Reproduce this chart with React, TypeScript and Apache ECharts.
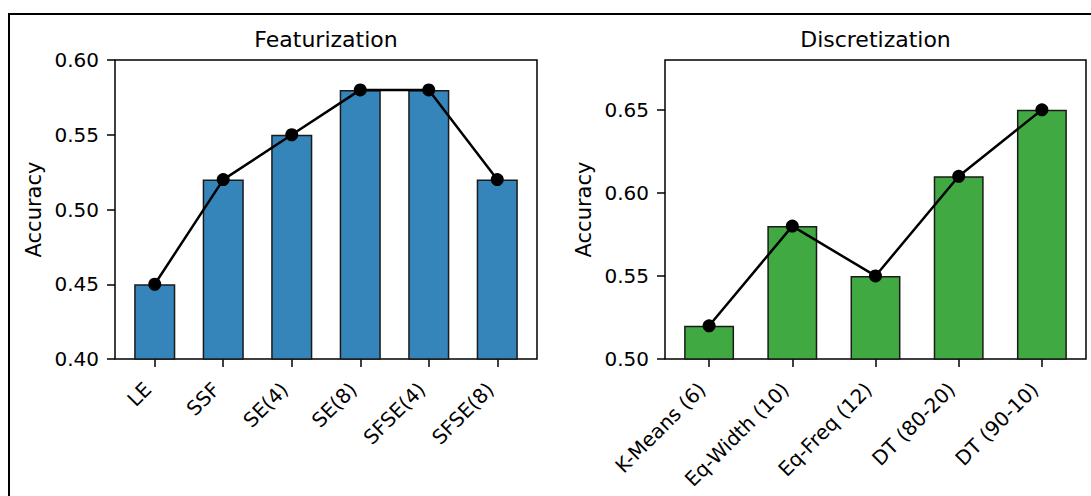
import React, { useEffect, useRef } from "react";
import * as echarts from "echarts";

const featCats = ["LE", "SSF", "SE(4)", "SE(8)", "SFSE(4)", "SFSE(8)"];
const featVals = [0.45, 0.52, 0.55, 0.58, 0.58, 0.52];
const featYMin = 0.4;
const featYMax = 0.6;

const discCats = ["K-Means (6)", "Eq-Width (10)", "Eq-Freq (12)", "DT (80-20)", "DT (90-10)"];
const discVals = [0.52, 0.58, 0.55, 0.61, 0.65];
const discYMin = 0.5;
const discYMax = 0.68;
const discTickMax = 0.65;

const tickStep = 0.05;

const FONT = "DejaVu Sans";
const BLUE = "#3585bb";
const GREEN = "#41a941";

const PANEL_TOP = 60;
const PANEL_H = 299;
const TICK_LEN = 8;
const panels = [
  { left: 115, width: 422 },
  { left: 665, width: 421 },
];

const labelFont = { fontFamily: FONT, fontSize: 20, color: "#000" };
const tickLine = { show: true, lineStyle: { color: "#000", width: 1.5 } };

function pad(n: number) {
  return 0.3 + (n - 1 + 0.6) * 0.05;
}
function spacing(p: { left: number; width: number }, n: number) {
  return p.width / (n - 1 + 2 * pad(n));
}

export default function App() {
  const ref = useRef<HTMLDivElement>(null);
  useEffect(() => {
    if (!ref.current) return;
    const chart = echarts.init(ref.current, null, { renderer: "svg" });

    const nA = featCats.length;
    const nB = discCats.length;
    const sA = spacing(panels[0], nA);
    const sB = spacing(panels[1], nB);
    const offA = (pad(nA) - 0.5) * sA;
    const offB = (pad(nB) - 0.5) * sB;
    const bottom = PANEL_TOP + PANEL_H;
    const discTop = PANEL_TOP + ((discYMax - discTickMax) / (discYMax - discYMin)) * PANEL_H;

    const hiddenCat = (gridIndex: number, data: string[]) => ({ type: "category", gridIndex, data, show: false });
    const hiddenVal = (gridIndex: number, min: number, max: number) => ({ type: "value", gridIndex, min, max, show: false });
    const labelCat = (gridIndex: number, cats: string[]) => ({
      type: "category",
      gridIndex,
      data: cats,
      boundaryGap: true,
      axisLine: { show: false },
      axisTick: { show: false },
      splitLine: { show: false },
      axisLabel: { ...labelFont, interval: 0, rotate: 45, margin: 34, verticalAlign: "bottom" },
    });
    const nameStyle = {
      name: "Accuracy",
      nameLocation: "middle",
      nameGap: 71,
      nameTextStyle: { fontFamily: FONT, fontSize: 21, color: "#000" },
    };
    // strip of the axis whose split lines act as outward tick marks
    const tickStripX = (gridIndex: number, n: number) => ({
      type: "value",
      gridIndex,
      min: 0,
      max: n - 1,
      interval: 1,
      axisLine: { show: false },
      axisTick: { show: false },
      axisLabel: { show: false },
      splitLine: tickLine,
    });
    const tickStripY = (gridIndex: number, min: number, max: number) => ({
      type: "value",
      gridIndex,
      min,
      max,
      interval: tickStep,
      axisLine: { show: false },
      axisTick: { show: false },
      axisLabel: { show: false },
      splitLine: tickLine,
    });

    const option: any = {
      animation: false,
      backgroundColor: "#fff",
      grid: [
        // 0 frame left
        { left: panels[0].left, top: PANEL_TOP, width: panels[0].width, height: PANEL_H, show: true, borderColor: "#000", borderWidth: 1.5 },
        // 1 data left
        { left: panels[0].left + offA, top: PANEL_TOP, width: nA * sA, height: PANEL_H },
        // 2 frame right
        { left: panels[1].left, top: PANEL_TOP, width: panels[1].width, height: PANEL_H, show: true, borderColor: "#000", borderWidth: 1.5 },
        // 3 data right
        { left: panels[1].left + offB, top: PANEL_TOP, width: nB * sB, height: PANEL_H },
        // 4 right y labels
        { left: panels[1].left + offB, top: discTop, width: nB * sB, height: bottom - discTop },
        // 5 left y tick strip
        { left: panels[0].left - TICK_LEN, top: PANEL_TOP, width: TICK_LEN, height: PANEL_H },
        // 6 right y tick strip
        { left: panels[1].left - TICK_LEN, top: discTop, width: TICK_LEN, height: bottom - discTop },
        // 7 left x tick strip
        { left: panels[0].left + pad(nA) * sA, top: bottom, width: (nA - 1) * sA, height: TICK_LEN },
        // 8 right x tick strip
        { left: panels[1].left + pad(nB) * sB, top: bottom, width: (nB - 1) * sB, height: TICK_LEN },
      ],
      xAxis: [
        hiddenCat(0, featCats),
        labelCat(1, featCats),
        hiddenCat(2, discCats),
        labelCat(3, discCats),
        hiddenCat(4, discCats),
        hiddenCat(5, [""]),
        hiddenCat(6, [""]),
        tickStripX(7, nA),
        tickStripX(8, nB),
      ],
      yAxis: [
        hiddenVal(0, featYMin, featYMax),
        {
          type: "value",
          gridIndex: 1,
          min: featYMin,
          max: featYMax,
          interval: tickStep,
          offset: offA,
          ...nameStyle,
          splitLine: { show: false },
          axisLine: { show: false },
          axisTick: { show: false },
          axisLabel: { ...labelFont, margin: 16, formatter: (v: number) => v.toFixed(2) },
        },
        hiddenVal(2, discYMin, discYMax),
        {
          type: "value",
          gridIndex: 3,
          min: discYMin,
          max: discYMax,
          offset: offB,
          ...nameStyle,
          splitLine: { show: false },
          axisLine: { show: false },
          axisTick: { show: false },
          axisLabel: { show: false },
        },
        {
          type: "value",
          gridIndex: 4,
          min: discYMin,
          max: discTickMax,
          interval: tickStep,
          offset: offB,
          splitLine: { show: false },
          axisLine: { show: false },
          axisTick: { show: false },
          axisLabel: { ...labelFont, margin: 16, formatter: (v: number) => v.toFixed(2) },
        },
        tickStripY(5, featYMin, featYMax),
        tickStripY(6, discYMin, discTickMax),
        hiddenVal(7, 0, 1),
        hiddenVal(8, 0, 1),
      ],
      graphic: [
        {
          type: "rect",
          silent: true,
          shape: { x: 9, y: 14, width: 1200, height: 600 },
          style: { fill: "none", stroke: "#000", lineWidth: 2 },
        },
        {
          type: "text",
          x: panels[0].left + panels[0].width / 2,
          y: 39,
          style: { text: "Featurization", fontFamily: FONT, fontSize: 22, fill: "#000", textAlign: "center", textVerticalAlign: "middle" },
        },
        {
          type: "text",
          x: panels[1].left + panels[1].width / 2,
          y: 39,
          style: { text: "Discretization", fontFamily: FONT, fontSize: 22, fill: "#000", textAlign: "center", textVerticalAlign: "middle" },
        },
      ],
      series: [
        {
          type: "bar",
          xAxisIndex: 1,
          yAxisIndex: 1,
          barWidth: "60%",
          data: featVals,
          itemStyle: { color: BLUE, borderColor: "#1a1a1a", borderWidth: 1.5 },
        },
        {
          type: "line",
          xAxisIndex: 1,
          yAxisIndex: 1,
          data: featVals,
          symbol: "circle",
          symbolSize: 13,
          lineStyle: { color: "#000", width: 2.5 },
          itemStyle: { color: "#000" },
          z: 5,
        },
        {
          type: "bar",
          xAxisIndex: 3,
          yAxisIndex: 3,
          barWidth: "60%",
          data: discVals,
          itemStyle: { color: GREEN, borderColor: "#1a1a1a", borderWidth: 1.5 },
        },
        {
          type: "line",
          xAxisIndex: 3,
          yAxisIndex: 3,
          data: discVals,
          symbol: "circle",
          symbolSize: 13,
          lineStyle: { color: "#000", width: 2.5 },
          itemStyle: { color: "#000" },
          z: 5,
        },
      ],
    };
    chart.setOption(option);
    return () => chart.dispose();
  }, []);
  return (
    <div
      ref={ref}
      style={{ position: "absolute", left: 0, top: 0, width: 1091, height: 496 }}
    />
  );
}
